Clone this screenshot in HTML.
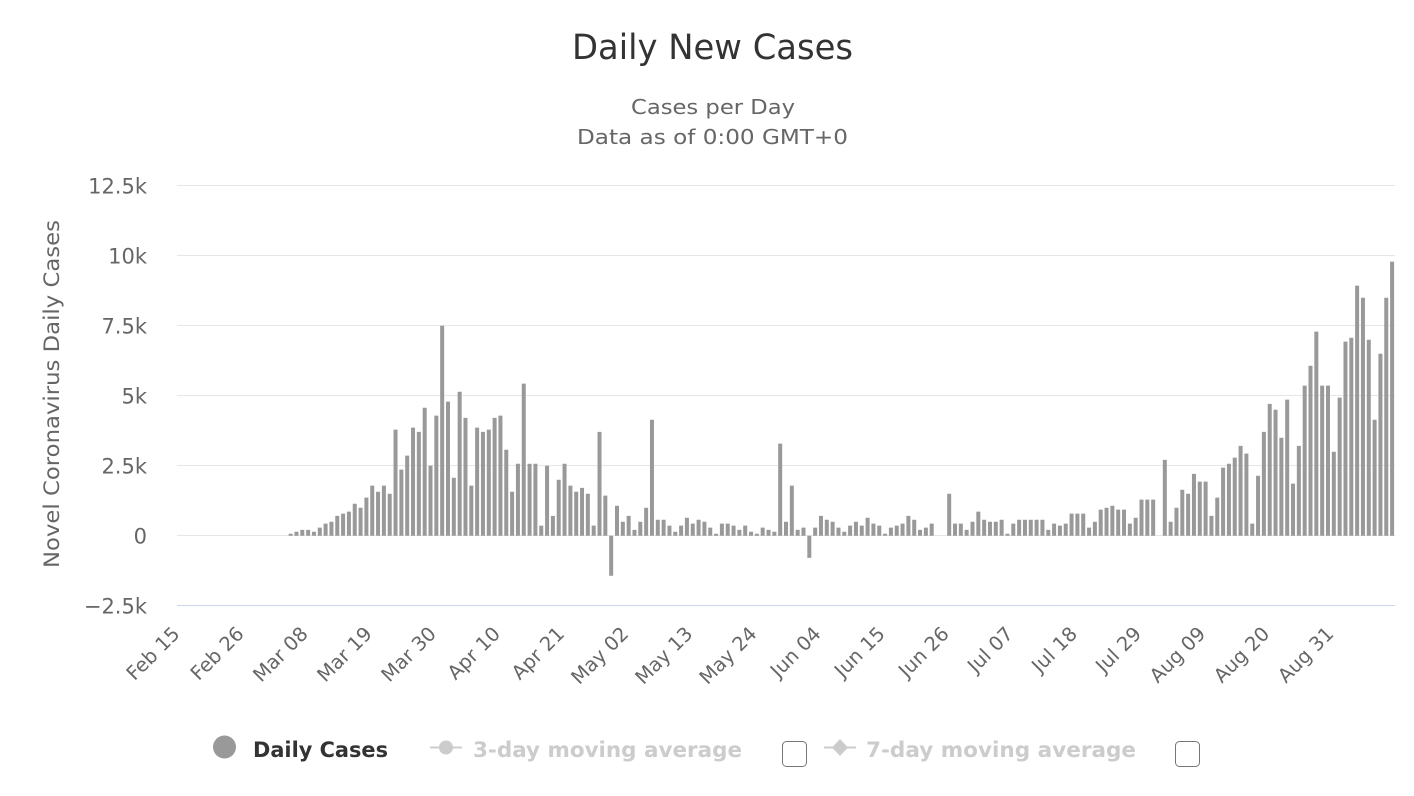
<!DOCTYPE html>
<html>
<head>
<meta charset="utf-8">
<style>
html,body{margin:0;padding:0;background:#fff;}
svg{display:block;font-family:"DejaVu Sans","Liberation Sans",sans-serif;}
</style>
</head>
<body>
<svg width="1414" height="796" viewBox="0 0 1414 796" xmlns="http://www.w3.org/2000/svg">
<rect x="0" y="0" width="1414" height="796" fill="#fff"/>
<text x="712.5" y="59" text-anchor="middle" font-size="35" fill="#333" textLength="281" lengthAdjust="spacingAndGlyphs">Daily New Cases</text>
<text x="713" y="114" text-anchor="middle" font-size="20.5" fill="#666" textLength="164" lengthAdjust="spacingAndGlyphs">Cases per Day</text>
<text x="712.5" y="144" text-anchor="middle" font-size="20.5" fill="#666" textLength="271" lengthAdjust="spacingAndGlyphs">Data as of 0:00 GMT+0</text>
<path d="M177 185.5H1395M177 255.5H1395M177 325.5H1395M177 395.5H1395M177 465.5H1395M177 535.5H1395" stroke="#e6e6e6" stroke-width="1" fill="none"/>
<line x1="177" y1="605.5" x2="1395" y2="605.5" stroke="#ccd6eb" stroke-width="1"/>
<g font-size="21" fill="#666" text-anchor="end">
<text x="147" y="193.5">12.5k</text>
<text x="147" y="263.5">10k</text>
<text x="147" y="333.5">7.5k</text>
<text x="147" y="403.5">5k</text>
<text x="147" y="473.5">2.5k</text>
<text x="147" y="543.5">0</text>
<text x="147" y="613.5">−2.5k</text>
</g>
<text transform="translate(59,394) rotate(-90)" text-anchor="middle" font-size="21" fill="#666" textLength="348" lengthAdjust="spacingAndGlyphs">Novel Coronavirus Daily Cases</text>
<g transform="translate(177,535.7) scale(5.8278,-28)">
<path fill="#999" d="M19.157 0h.686v.07h-.686z M20.157 0h.686v.14h-.686z M21.157 0h.686v.21h-.686z M22.157 0h.686v.21h-.686z M23.157 0h.686v.14h-.686z M24.157 0h.686v.29h-.686z M25.157 0h.686v.43h-.686z M26.157 0h.686v.5h-.686z M27.157 0h.686v.71h-.686z M28.157 0h.686v.79h-.686z M29.157 0h.686v.86h-.686z M30.157 0h.686v1.14h-.686z M31.157 0h.686v1h-.686z M32.157 0h.686v1.36h-.686z M33.157 0h.686v1.79h-.686z M34.157 0h.686v1.57h-.686z M35.157 0h.686v1.79h-.686z M36.157 0h.686v1.5h-.686z M37.157 0h.686v3.79h-.686z M38.157 0h.686v2.36h-.686z M39.157 0h.686v2.86h-.686z M40.157 0h.686v3.86h-.686z M41.157 0h.686v3.71h-.686z M42.157 0h.686v4.57h-.686z M43.157 0h.686v2.5h-.686z M44.157 0h.686v4.29h-.686z M45.157 0h.686v7.5h-.686z M46.157 0h.686v4.79h-.686z M47.157 0h.686v2.07h-.686z M48.157 0h.686v5.14h-.686z M49.157 0h.686v4.21h-.686z M50.157 0h.686v1.79h-.686z M51.157 0h.686v3.86h-.686z M52.157 0h.686v3.71h-.686z M53.157 0h.686v3.79h-.686z M54.157 0h.686v4.21h-.686z M55.157 0h.686v4.29h-.686z M56.157 0h.686v3.07h-.686z M57.157 0h.686v1.57h-.686z M58.157 0h.686v2.57h-.686z M59.157 0h.686v5.43h-.686z M60.157 0h.686v2.57h-.686z M61.157 0h.686v2.57h-.686z M62.157 0h.686v.36h-.686z M63.157 0h.686v2.5h-.686z M64.157 0h.686v.71h-.686z M65.157 0h.686v2h-.686z M66.157 0h.686v2.57h-.686z M67.157 0h.686v1.79h-.686z M68.157 0h.686v1.57h-.686z M69.157 0h.686v1.71h-.686z M70.157 0h.686v1.5h-.686z M71.157 0h.686v.36h-.686z M72.157 0h.686v3.71h-.686z M73.157 0h.686v1.43h-.686z M74.157 0h.686v-1.43h-.686z M75.157 0h.686v1.07h-.686z M76.157 0h.686v.5h-.686z M77.157 0h.686v.71h-.686z M78.157 0h.686v.21h-.686z M79.157 0h.686v.5h-.686z M80.157 0h.686v1h-.686z M81.157 0h.686v4.14h-.686z M82.157 0h.686v.57h-.686z M83.157 0h.686v.57h-.686z M84.157 0h.686v.36h-.686z M85.157 0h.686v.14h-.686z M86.157 0h.686v.36h-.686z M87.157 0h.686v.64h-.686z M88.157 0h.686v.43h-.686z M89.157 0h.686v.57h-.686z M90.157 0h.686v.5h-.686z M91.157 0h.686v.29h-.686z M92.157 0h.686v.07h-.686z M93.157 0h.686v.43h-.686z M94.157 0h.686v.43h-.686z M95.157 0h.686v.36h-.686z M96.157 0h.686v.21h-.686z M97.157 0h.686v.36h-.686z M98.157 0h.686v.14h-.686z M99.157 0h.686v.07h-.686z M100.157 0h.686v.29h-.686z M101.157 0h.686v.21h-.686z M102.157 0h.686v.14h-.686z M103.157 0h.686v3.29h-.686z M104.157 0h.686v.5h-.686z M105.157 0h.686v1.79h-.686z M106.157 0h.686v.21h-.686z M107.157 0h.686v.29h-.686z M108.157 0h.686v-.79h-.686z M109.157 0h.686v.29h-.686z M110.157 0h.686v.71h-.686z M111.157 0h.686v.57h-.686z M112.157 0h.686v.5h-.686z M113.157 0h.686v.29h-.686z M114.157 0h.686v.14h-.686z M115.157 0h.686v.36h-.686z M116.157 0h.686v.5h-.686z M117.157 0h.686v.36h-.686z M118.157 0h.686v.64h-.686z M119.157 0h.686v.43h-.686z M120.157 0h.686v.36h-.686z M121.157 0h.686v.07h-.686z M122.157 0h.686v.29h-.686z M123.157 0h.686v.36h-.686z M124.157 0h.686v.43h-.686z M125.157 0h.686v.71h-.686z M126.157 0h.686v.57h-.686z M127.157 0h.686v.21h-.686z M128.157 0h.686v.29h-.686z M129.157 0h.686v.43h-.686z M132.157 0h.686v1.5h-.686z M133.157 0h.686v.43h-.686z M134.157 0h.686v.43h-.686z M135.157 0h.686v.21h-.686z M136.157 0h.686v.5h-.686z M137.157 0h.686v.86h-.686z M138.157 0h.686v.57h-.686z M139.157 0h.686v.5h-.686z M140.157 0h.686v.5h-.686z M141.157 0h.686v.57h-.686z M142.157 0h.686v.07h-.686z M143.157 0h.686v.43h-.686z M144.157 0h.686v.57h-.686z M145.157 0h.686v.57h-.686z M146.157 0h.686v.57h-.686z M147.157 0h.686v.57h-.686z M148.157 0h.686v.57h-.686z M149.157 0h.686v.21h-.686z M150.157 0h.686v.43h-.686z M151.157 0h.686v.36h-.686z M152.157 0h.686v.43h-.686z M153.157 0h.686v.79h-.686z M154.157 0h.686v.79h-.686z M155.157 0h.686v.79h-.686z M156.157 0h.686v.29h-.686z M157.157 0h.686v.5h-.686z M158.157 0h.686v.93h-.686z M159.157 0h.686v1h-.686z M160.157 0h.686v1.07h-.686z M161.157 0h.686v.93h-.686z M162.157 0h.686v.93h-.686z M163.157 0h.686v.43h-.686z M164.157 0h.686v.64h-.686z M165.157 0h.686v1.29h-.686z M166.157 0h.686v1.29h-.686z M167.157 0h.686v1.29h-.686z M169.157 0h.686v2.71h-.686z M170.157 0h.686v.5h-.686z M171.157 0h.686v1h-.686z M172.157 0h.686v1.64h-.686z M173.157 0h.686v1.5h-.686z M174.157 0h.686v2.21h-.686z M175.157 0h.686v1.93h-.686z M176.157 0h.686v1.93h-.686z M177.157 0h.686v.71h-.686z M178.157 0h.686v1.36h-.686z M179.157 0h.686v2.43h-.686z M180.157 0h.686v2.57h-.686z M181.157 0h.686v2.79h-.686z M182.157 0h.686v3.21h-.686z M183.157 0h.686v2.93h-.686z M184.157 0h.686v.43h-.686z M185.157 0h.686v2.14h-.686z M186.157 0h.686v3.71h-.686z M187.157 0h.686v4.71h-.686z M188.157 0h.686v4.5h-.686z M189.157 0h.686v3.5h-.686z M190.157 0h.686v4.86h-.686z M191.157 0h.686v1.86h-.686z M192.157 0h.686v3.21h-.686z M193.157 0h.686v5.36h-.686z M194.157 0h.686v6.07h-.686z M195.157 0h.686v7.29h-.686z M196.157 0h.686v5.36h-.686z M197.157 0h.686v5.36h-.686z M198.157 0h.686v3h-.686z M199.157 0h.686v4.93h-.686z M200.157 0h.686v6.93h-.686z M201.157 0h.686v7.07h-.686z M202.157 0h.686v8.93h-.686z M203.157 0h.686v8.5h-.686z M204.157 0h.686v7h-.686z M205.157 0h.686v4.14h-.686z M206.157 0h.686v6.5h-.686z M207.157 0h.686v8.5h-.686z M208.157 0h.686v9.79h-.686z"/>
</g>
<g font-size="19.5" fill="#666" text-anchor="end">
<text transform="translate(180.9,635) rotate(-45)">Feb 15</text>
<text transform="translate(245.0,635) rotate(-45)">Feb 26</text>
<text transform="translate(309.1,635) rotate(-45)">Mar 08</text>
<text transform="translate(373.2,635) rotate(-45)">Mar 19</text>
<text transform="translate(437.3,635) rotate(-45)">Mar 30</text>
<text transform="translate(501.4,635) rotate(-45)">Apr 10</text>
<text transform="translate(565.5,635) rotate(-45)">Apr 21</text>
<text transform="translate(629.7,635) rotate(-45)">May 02</text>
<text transform="translate(693.8,635) rotate(-45)">May 13</text>
<text transform="translate(757.9,635) rotate(-45)">May 24</text>
<text transform="translate(822.0,635) rotate(-45)">Jun 04</text>
<text transform="translate(886.1,635) rotate(-45)">Jun 15</text>
<text transform="translate(950.2,635) rotate(-45)">Jun 26</text>
<text transform="translate(1014.3,635) rotate(-45)">Jul 07</text>
<text transform="translate(1078.4,635) rotate(-45)">Jul 18</text>
<text transform="translate(1142.5,635) rotate(-45)">Jul 29</text>
<text transform="translate(1206.6,635) rotate(-45)">Aug 09</text>
<text transform="translate(1270.7,635) rotate(-45)">Aug 20</text>
<text transform="translate(1334.8,635) rotate(-45)">Aug 31</text>
</g>
<circle cx="224.5" cy="747" r="11.5" fill="#999"/>
<text x="253" y="757" font-size="21" font-weight="bold" fill="#333" textLength="135" lengthAdjust="spacingAndGlyphs">Daily Cases</text>
<line x1="430" y1="747.5" x2="462" y2="747.5" stroke="#ccc" stroke-width="2"/>
<circle cx="446" cy="747.5" r="7" fill="#ccc"/>
<text x="473" y="757" font-size="21" font-weight="bold" fill="#ccc" textLength="269" lengthAdjust="spacingAndGlyphs">3-day moving average</text>
<rect x="782.5" y="741.5" width="24" height="25" rx="4" ry="4" fill="#fff" stroke="#767676" stroke-width="1"/>
<line x1="824" y1="747.5" x2="856" y2="747.5" stroke="#ccc" stroke-width="2"/>
<path d="M840 739 L848 747.5 L840 756 L832 747.5 Z" fill="#ccc"/>
<text x="866" y="757" font-size="21" font-weight="bold" fill="#ccc" textLength="270" lengthAdjust="spacingAndGlyphs">7-day moving average</text>
<rect x="1175.5" y="741.5" width="24" height="25" rx="4" ry="4" fill="#fff" stroke="#767676" stroke-width="1"/>
</svg>
</body>
</html>
